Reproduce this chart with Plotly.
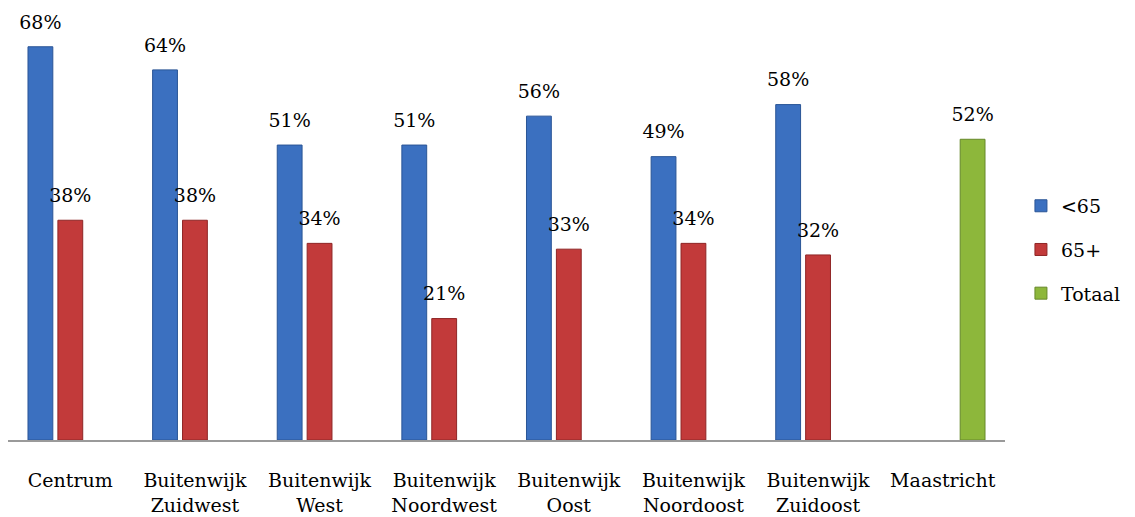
import plotly.graph_objects as go

categories = ["Centrum", "Buitenwijk<br>Zuidwest", "Buitenwijk<br>West", "Buitenwijk<br>Noordwest",
              "Buitenwijk<br>Oost", "Buitenwijk<br>Noordoost", "Buitenwijk<br>Zuidoost", "Maastricht"]
under65 = [68, 64, 51, 51, 56, 49, 58, None]
over65 = [38, 38, 34, 21, 33, 34, 32, None]
totaal = [None, None, None, None, None, None, None, 52]

FONT = "DejaVu Serif"

def lbl(vals):
    return ["" if v is None else f"{v}%" for v in vals]

fig = go.Figure()
series = [("<65", under65, "#3B70C0", "#2A5596"),
          ("65+", over65, "#C23A3A", "#8F2626"),
          ("Totaal", totaal, "#8DB73B", "#66882A")]
for name, vals, col, edge in series:
    fig.add_trace(go.Bar(
        name=name, x=categories, y=vals, legendgroup=name, offsetgroup=name,
        marker=dict(color=col, line=dict(color=edge, width=1)),
    ))
for name, vals, col, edge in series:
    fig.add_trace(go.Scatter(
        x=categories, y=vals, text=lbl(vals), mode="markers+text", textposition="top center",
        offsetgroup=name, legendgroup=name, showlegend=False, cliponaxis=False,
        marker=dict(size=20, color="rgba(0,0,0,0)"), hoverinfo="skip",
        textfont=dict(family=FONT, size=19, color="#000"),
    ))

fig.update_layout(
    width=1135, height=517, barmode="group", bargap=0.28, bargroupgap=0.17,
    scattermode="group", scattergap=0.28,
    plot_bgcolor="white", paper_bgcolor="white",
    margin=dict(l=0, r=138, t=0, b=85, autoexpand=False),
    font=dict(family=FONT, size=19, color="#000"),
    legend=dict(x=1.016, y=0.44, yanchor="middle", xanchor="left",
                font=dict(family=FONT, size=19), traceorder="grouped", tracegroupgap=16,
                itemwidth=30, bgcolor="rgba(0,0,0,0)"),
)
fig.update_xaxes(showline=True, linecolor="#9A9A9A", linewidth=2, ticks="", automargin=False,
                 tickfont=dict(family=FONT, size=19), ticklabelstandoff=22, showgrid=False)
fig.update_yaxes(range=[0, 74.7], visible=False, showgrid=False, automargin=False)

fig.write_html("out.html")
